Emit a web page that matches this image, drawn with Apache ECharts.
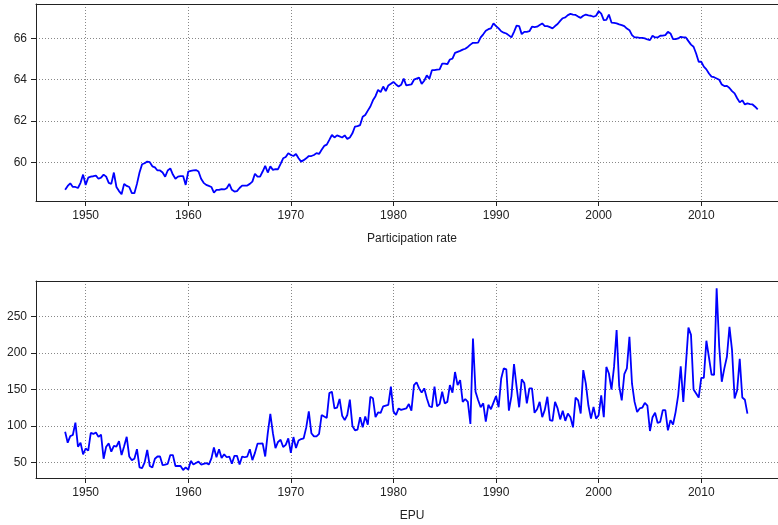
<!DOCTYPE html>
<html>
<head>
<meta charset="utf-8">
<script src="https://cdn.jsdelivr.net/npm/echarts@6/dist/echarts.min.js"></script>
<style>
  html, body { margin: 0; padding: 0; background: #fff; }
  #main { width: 778px; height: 525px; }
</style>
</head>
<body>
<div id="main"></div>
<script>
// quarterly series, first point at 1948Q1
var partStart = 1948;
var partRate = [
  58.66, 58.85, 58.98, 58.8,   58.8, 58.75, 59.0, 59.4,    58.9, 59.25, 59.3, 59.32,
  59.35, 59.2, 59.25, 59.4,    59.3, 59.0, 58.95, 59.5,    58.8, 58.6, 58.45, 58.95,
  58.85, 58.8, 58.5, 58.5,     58.95, 59.5, 59.9, 59.95,   60.03, 60.0, 59.8, 59.75,
  59.6, 59.6, 59.5, 59.3,      59.6, 59.7, 59.4, 59.2,     59.3, 59.33, 59.33, 58.9,
  59.55, 59.58, 59.6, 59.62,   59.55, 59.2, 59.0, 58.9,    58.85, 58.8, 58.53, 58.66,
  58.66, 58.7, 58.68, 58.74,   58.95, 58.66, 58.58, 58.6,  58.75, 58.87, 58.87, 58.87,
  58.95, 59.06, 59.44, 59.3,   59.3, 59.55, 59.82, 59.5,   59.8, 59.63, 59.66, 59.66,
  59.92, 60.19, 60.25, 60.44,  60.35, 60.3, 60.4, 60.19,   60.03, 60.1, 60.19, 60.3,
  60.3, 60.35, 60.44, 60.4,    60.6, 60.79, 60.85, 61.08,  61.32, 61.2, 61.3, 61.25,
  61.2, 61.3, 61.13, 61.2,     61.4, 61.73, 61.75, 61.8,   62.2, 62.29, 62.5, 62.7,
  63.0, 63.2, 63.51, 63.4,     63.67, 63.45, 63.72, 63.8,  63.89, 63.77, 63.67, 63.75,
  64.05, 63.72, 63.75, 63.77,  64.0, 64.05, 64.1, 63.8,    63.95, 64.21, 64.05, 64.46,
  64.46, 64.49, 64.5, 64.78,   64.78, 64.75, 64.98, 65.02, 65.3, 65.35, 65.4, 65.46,
  65.5, 65.59, 65.7, 65.79,    65.79, 65.8, 66.05, 66.2,   66.37, 66.45, 66.49, 66.73,
  66.6, 66.49, 66.35, 66.28,   66.24, 66.15, 66.05, 66.32, 66.62, 66.6, 66.21, 66.32,
  66.32, 66.35, 66.57, 66.55,  66.57, 66.65, 66.73, 66.6,  66.6, 66.55, 66.49, 66.6,
  66.7, 66.85, 66.98, 67.02,   67.13, 67.19, 67.16, 67.14, 67.06, 67.0, 67.1, 67.16,
  67.12, 67.1, 67.05, 67.1,    67.32, 67.2, 66.89, 66.9,   67.16, 66.77, 66.75, 66.73,
  66.68, 66.65, 66.6, 66.48,   66.4, 66.16, 66.05, 66.05,  66.03, 66.03, 66.0, 65.95,
  65.92, 66.13, 66.05, 66.05,  66.13, 66.14, 66.16, 66.32, 66.24, 65.97, 65.97, 66.0,
  66.08, 66.05, 66.05, 65.87,  65.7, 65.6, 65.27, 64.87,   64.87, 64.63, 64.5, 64.3,
  64.15, 64.12, 64.06, 64.0,   63.77, 63.69, 63.7, 63.6,   63.45, 63.34, 63.1, 62.9,
  63.0, 62.8, 62.85, 62.82,    62.8, 62.69, 62.56
];

var epuStart = 1948;
var epu = [
  92, 77, 86, 87.5,      104.5, 71.5, 77, 61,    69, 66, 90.6, 89,       91, 85, 88, 55,
  71.5, 76, 64.7, 72.5,  71.5, 79, 60, 72,       85, 58, 53, 55,         68, 43, 42, 50,
  67, 45, 43, 55,        58, 58, 46, 47,         48, 60, 60, 45,         45, 45, 39.5, 43,
  40, 52, 47, 49,        51, 47, 48, 49,         47, 55, 70.5, 57,       68, 56, 61, 57,
  58, 48, 59, 59,        47, 58, 57, 58,         68, 53, 63, 75.6,       75.6, 76, 58, 90,
  116.7, 90, 69.6, 78,   81, 71, 74, 83,         63, 84.7, 69.6, 80,     82, 83, 98, 120,
  90, 85.6, 85.6, 89,    115, 113, 111, 145,     147, 124, 125, 137,     114, 108, 115, 136,
  100, 94, 95, 112,      98, 113, 101.6, 140,    138, 112, 118.5, 118,   127, 128, 129, 154,
  120, 115, 124, 122,    123, 124, 130, 121,     156, 160, 151.6, 145.7, 151.6, 138, 127, 125.6,
  154, 127, 130, 147,    131, 133, 156, 145.7,   174, 156, 163, 133,     137, 133, 102.7, 220,
  147, 135.6, 125.6, 131, 106, 129, 123, 132,    141, 125.6, 165, 179,   177.6, 121, 141, 185,
  154, 125.6, 164, 159,  131, 151.6, 151.6, 118, 123, 133, 112, 122,     140, 108, 107, 133,
  124, 109, 121, 107,    117, 112, 98, 139,      135, 117, 176.6, 158,   128, 110, 126, 110,
  114.7, 142, 112, 181,  172, 150, 181, 231.6,   154.6, 135, 171, 179,   222.5, 158, 133, 119,
  124, 125, 131.6, 128,  93, 112, 118, 104,      105.5, 121.6, 121.6, 94, 108, 102, 119, 142,
  182, 133, 183.5, 235,  225, 150, 144.5, 139,   166, 166, 217, 194,     170.6, 170, 289, 208.7,
  160.6, 179, 195, 236,  204, 137.6, 149, 192,   139, 136, 117
];

var xMin = 1945.16, xMax = 2017.48;

function toPairs(start, arr) {
  return arr.map(function (v, i) { return [start + i / 4, v]; });
}

var myChart = echarts.init(document.getElementById('main'));

var font = 'Liberation Sans, Arial, sans-serif';
var gridLine = { show: true, lineStyle: { color: '#888', type: [1, 2], width: 1 } };
var axisLine = { show: true, lineStyle: { color: '#222', width: 1 } };

function bottomAxis(idx, name) {
  return {
    type: 'value', gridIndex: idx, position: 'bottom',
    min: xMin, max: xMax,
    name: name, nameLocation: 'middle', nameGap: 32,
    nameTextStyle: { color: '#222', fontSize: 12, fontFamily: font, padding: [0, 0, 0, 10] },
    axisLine: axisLine,
    axisTick: { show: true, length: 5, lineStyle: { color: '#222' } },
    axisLabel: { color: '#222', fontSize: 12, fontFamily: font, margin: 9,
                 showMinLabel: false, showMaxLabel: false,
                 formatter: function (v) { return String(Math.round(v)); } },
    splitLine: gridLine
  };
}
function topAxis(idx) {
  return {
    type: 'value', gridIndex: idx, position: 'top',
    min: xMin, max: xMax,
    axisLine: axisLine, axisTick: { show: false },
    axisLabel: { show: false }, splitLine: { show: false }
  };
}
function leftAxis(idx, min, max) {
  return {
    type: 'value', gridIndex: idx, min: min, max: max,
    axisLine: axisLine,
    axisTick: { show: true, length: 5, lineStyle: { color: '#222' } },
    axisLabel: { color: '#222', fontSize: 12, fontFamily: font, margin: 9,
                 showMinLabel: false, showMaxLabel: false },
    splitLine: gridLine
  };
}

var option = {
  animation: false,
  backgroundColor: '#fff',
  grid: [
    { left: 36, right: 0, top: 4, height: 197 },
    { left: 36, right: 0, top: 281, height: 197 }
  ],
  xAxis: [
    bottomAxis(0, 'Participation rate'),
    bottomAxis(1, 'EPU'),
    topAxis(0),
    topAxis(1)
  ],
  yAxis: [
    leftAxis(0, 58.12, 67.67),
    leftAxis(1, 28.5, 299)
  ],
  series: [
    {
      type: 'line', xAxisIndex: 0, yAxisIndex: 0,
      data: toPairs(partStart, partRate),
      showSymbol: false,
      lineStyle: { color: '#0000ff', width: 1.8 }
    },
    {
      type: 'line', xAxisIndex: 1, yAxisIndex: 1,
      data: toPairs(epuStart, epu),
      showSymbol: false,
      lineStyle: { color: '#0000ff', width: 1.8 }
    }
  ]
};
myChart.setOption(option);
</script>
</body>
</html>
